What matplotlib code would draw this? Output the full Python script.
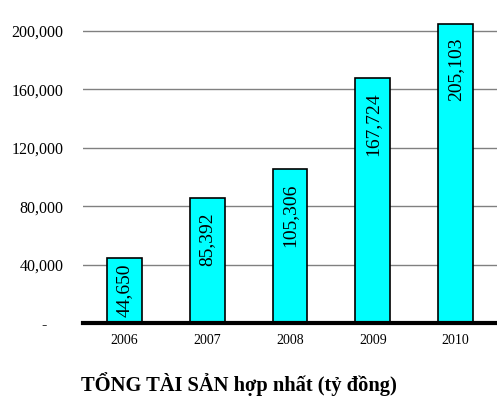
import matplotlib
matplotlib.use("Agg")
import matplotlib.pyplot as plt

plt.rcParams['font.family'] = ['Liberation Serif', 'DejaVu Serif']

# ====== DATA ======
years = ["2006", "2007", "2008", "2009", "2010"]
total_assets = [44650, 85392, 105306, 167724, 205103]
y_ticks = [0, 40000, 80000, 120000, 160000, 200000]
y_tick_labels = ["-", "40,000", "80,000", "120,000", "160,000", "200,000"]
title = "TỔNG TÀI SẢN hợp nhất (tỷ đồng)"

fig = plt.figure(figsize=(4.97, 3.96), dpi=100)
ax = fig.add_axes([83 / 497, 1 - 323 / 396, 1 - 83 / 497, 323 / 396])

x = list(range(len(years)))
ax.bar(x, total_assets, width=0.42, color="#00FFFF", edgecolor="black",
       linewidth=1.2, zorder=3)

ax.set_xlim(-0.5, 4.5)
ax.set_ylim(0, 221200)
ax.set_yticks(y_ticks)
ax.set_yticklabels(y_tick_labels, fontsize=11.5)
ax.set_xticks(x)
ax.set_xticklabels(years, fontsize=10)
ax.tick_params(axis="both", length=0)
ax.tick_params(axis="y", pad=14)
ax.tick_params(axis="x", pad=8)
# the "-" label sits further left, as in accounting number format
ax.get_yticklabels()[0].set_x(-0.041)

ax.yaxis.grid(True, color="#808080", linewidth=1.0, zorder=0)
ax.set_axisbelow(True)
for side in ["left", "right", "top"]:
    ax.spines[side].set_visible(False)
ax.spines["bottom"].set_linewidth(3)
ax.spines["bottom"].set_zorder(4)

# value labels: inside the top of each bar, centred when the bar is short
pad = 9600
label_len = 40000
for xi, v in zip(x, total_assets):
    txt = f"{v:,}"
    if v - pad - label_len > 0:
        ax.text(xi, v - pad, txt, rotation=90, ha="center", va="top",
                fontsize=14, zorder=5)
    else:
        ax.text(xi, v / 2, txt, rotation=90, ha="center", va="center",
                fontsize=14, zorder=5)

fig.text(239 / 497, 1 - 384 / 396, title, ha="center", va="center",
         fontsize=14.8, fontweight="bold")

fig.savefig("out.png", dpi=100)
